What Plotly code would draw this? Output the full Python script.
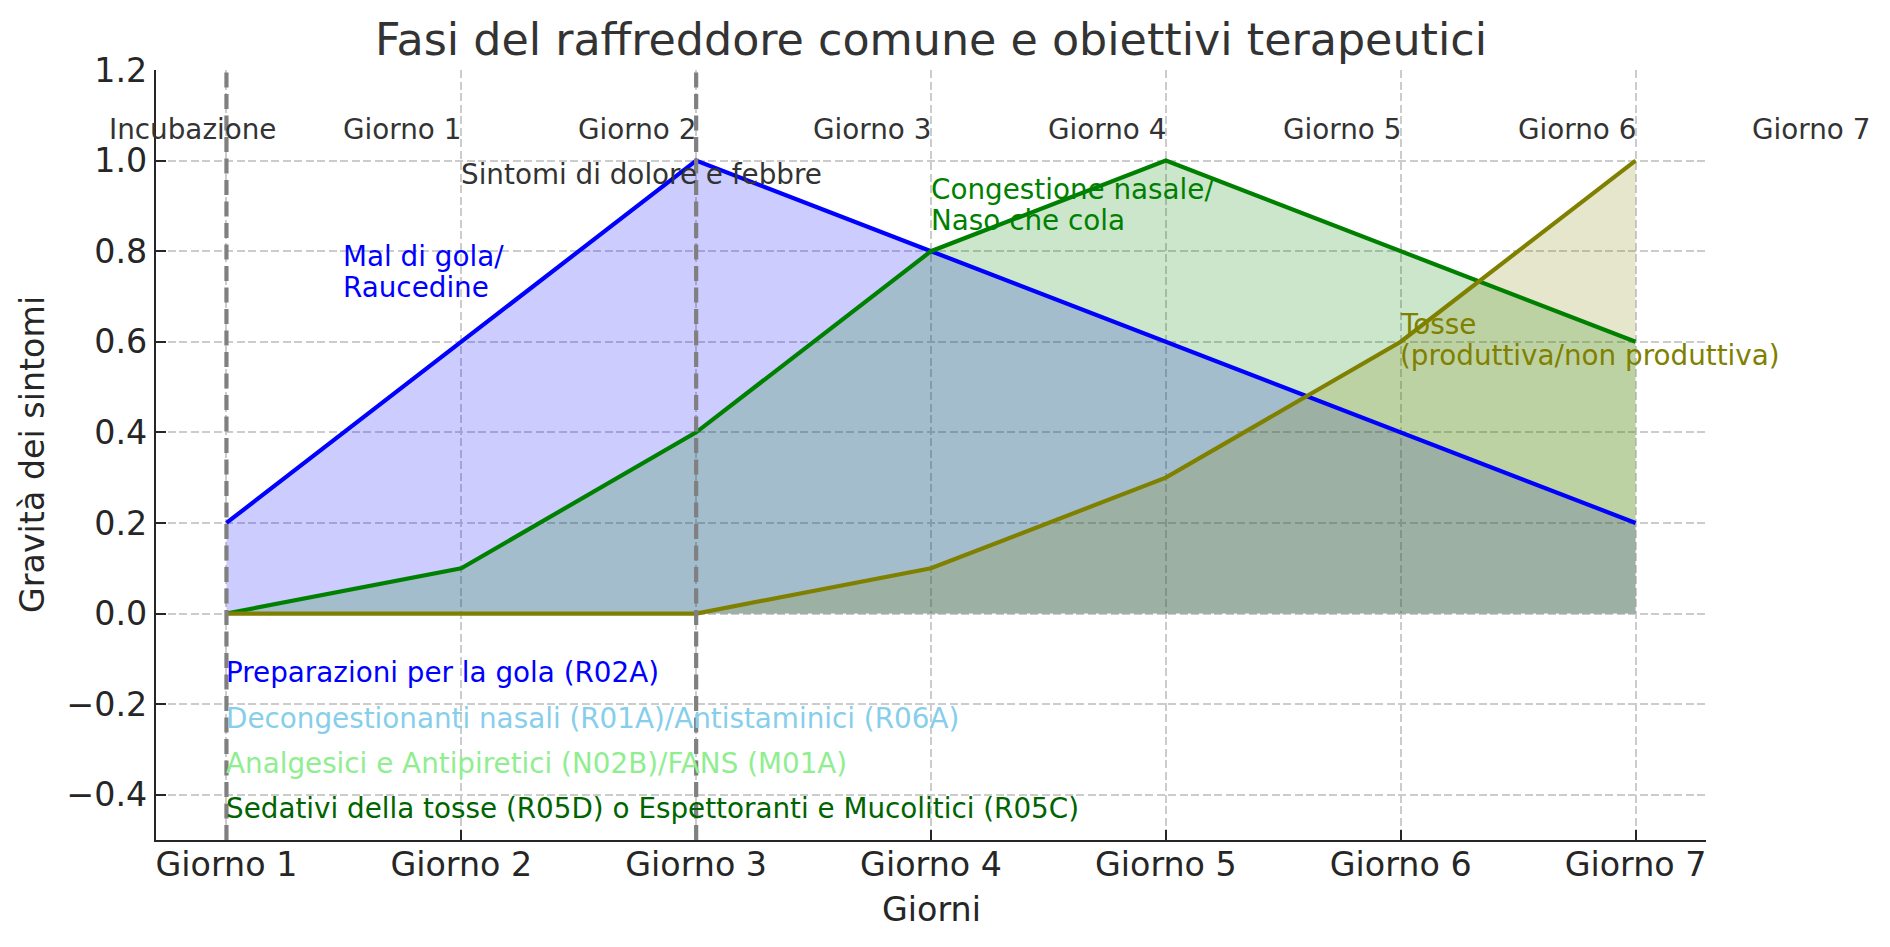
import plotly.graph_objects as go

# ---- data ----
days = ["Giorno 1", "Giorno 2", "Giorno 3", "Giorno 4", "Giorno 5", "Giorno 6", "Giorno 7"]
mal_di_gola = [0.2, 0.6, 1.0, 0.8, 0.6, 0.4, 0.2]
congestione = [0.0, 0.1, 0.4, 0.8, 1.0, 0.8, 0.6]
tosse = [0.0, 0.0, 0.0, 0.1, 0.3, 0.6, 1.0]
phase_labels = ["Incubazione", "Giorno 1", "Giorno 2", "Giorno 3", "Giorno 4", "Giorno 5", "Giorno 6", "Giorno 7"]
y_ticks = [-0.4, -0.2, 0.0, 0.2, 0.4, 0.6, 0.8, 1.0, 1.2]
phase_lines = [0, 2]

symptom_labels = [
    (["Mal di gola/", "Raucedine"], 0.5, 0.70, "blue"),
    (["Congestione nasale/", "Naso che cola"], 3, 0.85, "green"),
    (["Tosse", "(produttiva/non produttiva)"], 5, 0.55, "olive"),
    (["Sintomi di dolore e febbre"], 1, 0.95, "#333333"),
]
therapy_labels = [
    ("Preparazioni per la gola (R02A)", -0.15, "blue"),
    ("Decongestionanti nasali (R01A)/Antistaminici (R06A)", -0.25, "skyblue"),
    ("Analgesici e Antipiretici (N02B)/FANS (M01A)", -0.35, "lightgreen"),
    ("Sedativi della tosse (R05D) o Espettoranti e Mucolitici (R05C)", -0.45, "darkgreen"),
]

x = list(range(len(days)))
X_RANGE = [-0.3, 6.3]
Y_RANGE = [-0.5, 1.2]
FONT = "DejaVu Sans"
ANN = 27.8
TICK = 33.3
BASE_SHIFT = -10.0   # puts text baseline at the data y
LINE_GAP = 31.0
XS = -2.5


def to_paper_x(v):
    return (v - X_RANGE[0]) / (X_RANGE[1] - X_RANGE[0])


series = [
    (mal_di_gola, "#0000ff", "rgba(0,0,255,0.2)"),
    (congestione, "#008000", "rgba(0,128,0,0.2)"),
    (tosse, "#808000", "rgba(128,128,0,0.2)"),
]

fig = go.Figure()
for ys, lc, fc in series:
    fig.add_trace(go.Scatter(x=x, y=ys, mode="lines", fill="tozeroy", fillcolor=fc,
                             line=dict(width=0, color=lc), hoverinfo="skip", showlegend=False))
for ys, lc, fc in series:
    fig.add_trace(go.Scatter(x=x, y=ys, mode="lines", line=dict(width=4.2, color=lc),
                             showlegend=False))

for xv in phase_lines:
    fig.add_shape(type="line", xref="x", yref="paper", x0=xv, x1=xv, y0=0, y1=1,
                  line=dict(color="#808080", width=4.2, dash="15px,6.5px"), layer="above")

annotations = []
for i, lab in enumerate(phase_labels):
    annotations.append(dict(x=to_paper_x(i - 0.5), y=1.05, xref="paper", yref="y", text=lab,
                            showarrow=False, xanchor="left", yanchor="bottom",
                            yshift=BASE_SHIFT, xshift=XS,
                            font=dict(family=FONT, size=ANN, color="#333333")))
for lines, xv, yv, col in symptom_labels:
    n = len(lines)
    for k, line in enumerate(lines):
        annotations.append(dict(x=xv, y=yv, xref="x", yref="y", text=line, showarrow=False,
                                xanchor="left", yanchor="bottom",
                                yshift=BASE_SHIFT + (n - 1 - k) * LINE_GAP, xshift=XS,
                                font=dict(family=FONT, size=ANN, color=col)))
for txt, yv, col in therapy_labels:
    annotations.append(dict(x=0, y=yv, xref="x", yref="y", text=txt, showarrow=False,
                            xanchor="left", yanchor="bottom", yshift=BASE_SHIFT, xshift=XS,
                            font=dict(family=FONT, size=ANN, color=col)))
# title
annotations.append(dict(x=0.5, y=1, xref="paper", yref="paper", showarrow=False,
                        text="Fasi del raffreddore comune e obiettivi terapeutici",
                        xanchor="center", yanchor="bottom", yshift=3,
                        font=dict(family=FONT, size=44.4, color="#333333")))
# axis titles
annotations.append(dict(x=0.5, y=0, xref="paper", yref="paper", showarrow=False, text="Giorni",
                        xanchor="center", yanchor="bottom", yshift=-91,
                        font=dict(family=FONT, size=TICK, color="#262626")))
annotations.append(dict(x=0, y=0.5, xref="paper", yref="paper", showarrow=False,
                        text="Gravità dei sintomi", textangle=-90,
                        xanchor="center", yanchor="middle", xshift=-124,
                        font=dict(family=FONT, size=TICK, color="#262626")))

axis_common = dict(showline=True, linecolor="#262626", linewidth=2.2, mirror=False,
                   ticks="inside", ticklen=10, tickwidth=2, tickcolor="#262626",
                   showgrid=True, gridcolor="#cccccc", gridwidth=1.6, griddash="8px,3.5px",
                   zeroline=False, tickfont=dict(family=FONT, size=TICK, color="#262626"))

fig.update_layout(
    width=1890, height=947,
    margin=dict(l=156, r=184, t=70, b=107),
    paper_bgcolor="white", plot_bgcolor="white",
    showlegend=False,
    annotations=annotations,
    xaxis=dict(range=X_RANGE, tickvals=x, ticktext=days, ticklabelstandoff=-6, **axis_common),
    yaxis=dict(range=Y_RANGE, tickvals=y_ticks, tickformat=".1f", **axis_common),
)

fig.write_html("out.html")
